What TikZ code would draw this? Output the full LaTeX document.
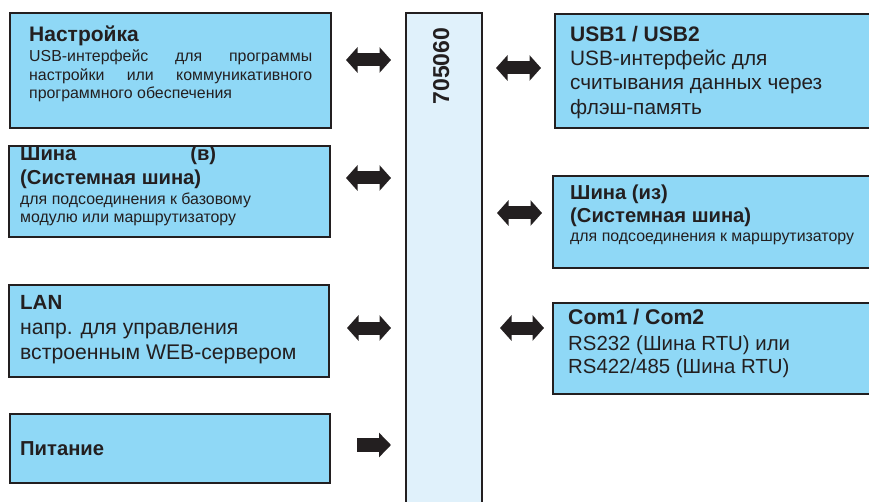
\documentclass[tikz,border=0pt]{standalone}
\usepackage{fontspec}
\setmainfont{Liberation Sans}
\usetikzlibrary{arrows.meta}
\definecolor{ink}{HTML}{231F20}
\definecolor{boxblue}{HTML}{8FD8F6}
\definecolor{coreblue}{HTML}{E0F1FB}
\tikzset{
  box/.style={draw=ink, line width=2.4pt, fill=boxblue, rectangle, inner sep=0pt, anchor=north west},
  corebox/.style={draw=ink, line width=2.4pt, fill=coreblue, rectangle, inner sep=0pt, anchor=north west},
  txt/.style={anchor=base west, inner sep=0pt, text=ink},
  dblarrow/.style={draw=ink, line width=13pt, {Triangle[length=11.5pt,width=25pt]}-{Triangle[length=11.5pt,width=25pt]}},
  onearrow/.style={draw=ink, line width=14pt, -{Triangle[length=12pt,width=24pt]}},
  ttl/.style={font=\fontsize{20.2}{22}\selectfont\bfseries},
  small/.style={font=\fontsize{15.9}{18}\selectfont},
  large/.style={font=\fontsize{20.8}{24}\selectfont},
}
\begin{document}
\begin{tikzpicture}[x=1pt,y=-1pt]
\useasboundingbox (0,0) rectangle (869,502);
\clip (0,0) rectangle (869,502);
% boxes
\node[box, minimum width=321pt, minimum height=115pt] (b1) at (9,12) {};
\node[box, minimum width=321pt, minimum height=91pt] (b2) at (8,145) {};
\node[box, minimum width=320pt, minimum height=92pt] (b3) at (8,284) {};
\node[box, minimum width=320pt, minimum height=69pt] (b4) at (9,413) {};
\node[corebox, minimum width=76pt, minimum height=520pt] (core) at (405,12) {};
\node[box, minimum width=330pt, minimum height=114pt] (b5) at (554,13) {};
\node[box, minimum width=330pt, minimum height=92pt] (b6) at (552,175) {};
\node[box, minimum width=330pt, minimum height=91pt] (b7) at (552,302) {};
% core label
\node[anchor=base, rotate=90, inner sep=0pt, text=ink, font=\fontsize{23}{25}\selectfont\bfseries] (corelbl) at (449,66) {705060};
% Настройка
\node[txt, font=\fontsize{21}{23}\selectfont\bfseries] (t1a) at (29,42) {Настройка};
\node[txt, small] (t1b) at (29,62) {\makebox[283pt][s]{USB-интерфейс для программы}};
\node[txt, small] (t1c) at (29,81) {\makebox[283pt][s]{настройки или коммуникативного}};
\node[txt, small] (t1d) at (29,99) {программного обеспечения};
% Шина (в)
\node[txt, ttl] (t2a) at (20,161) {\makebox[196pt][s]{Шина (в)}};
\node[txt, ttl] (t2b) at (20,185) {(Системная шина)};
\node[txt, small] (t2c) at (20,205) {для подсоединения к базовому};
\node[txt, small] (t2d) at (20,223) {модулю или маршрутизатору};
% LAN
\node[txt, font=\fontsize{20.5}{22}\selectfont\bfseries] (t3a) at (20,309) {LAN};
\node[txt, font=\fontsize{21.2}{24}\selectfont] (t3b) at (20,334) {напр. для управления};
\node[txt, font=\fontsize{21.2}{24}\selectfont] (t3c) at (20,359) {встроенным WEB-сервером};
% Питание
\node[txt, ttl] (t4a) at (20,455) {Питание};
% USB
\node[txt, font=\fontsize{21}{23}\selectfont\bfseries] (t5a) at (570,42) {USB1 / USB2};
\node[txt, large] (t5b) at (570,66) {USB-интерфейс для};
\node[txt, large] (t5c) at (570,90) {считывания данных через};
\node[txt, large] (t5d) at (570,115) {флэш-память};
% Шина (из)
\node[txt, ttl] (t6a) at (570,200) {Шина (из)};
\node[txt, ttl] (t6b) at (570,223) {(Системная шина)};
\node[txt, small] (t6c) at (570,242) {для подсоединения к маршрутизатору};
% Com
\node[txt, font=\fontsize{21.3}{23}\selectfont\bfseries] (t7a) at (568,324) {Com1 / Com2};
\node[txt, font=\fontsize{20.4}{24}\selectfont] (t7b) at (568,350) {RS232 (Шина RTU) или};
\node[txt, font=\fontsize{20.4}{24}\selectfont] (t7c) at (568,373) {RS422/485 (Шина RTU)};
% arrows
\coordinate (a1s) at (346,60); \coordinate (a1e) at (391,60);
\coordinate (a2s) at (496,68); \coordinate (a2e) at (541,68);
\coordinate (a3s) at (346,178); \coordinate (a3e) at (391,178);
\coordinate (a4s) at (497,213); \coordinate (a4e) at (542,213);
\coordinate (a5s) at (347,328); \coordinate (a5e) at (391,328);
\coordinate (a6s) at (357,445); \coordinate (a6e) at (391,445);
\coordinate (a7s) at (500,328); \coordinate (a7e) at (544,328);
\draw[dblarrow] (a1s) -- (a1e);
\draw[dblarrow] (a2s) -- (a2e);
\draw[dblarrow] (a3s) -- (a3e);
\draw[dblarrow] (a4s) -- (a4e);
\draw[dblarrow] (a5s) -- (a5e);
\draw[onearrow] (a6s) -- (a6e);
\draw[dblarrow] (a7s) -- (a7e);
\end{tikzpicture}
\end{document}
